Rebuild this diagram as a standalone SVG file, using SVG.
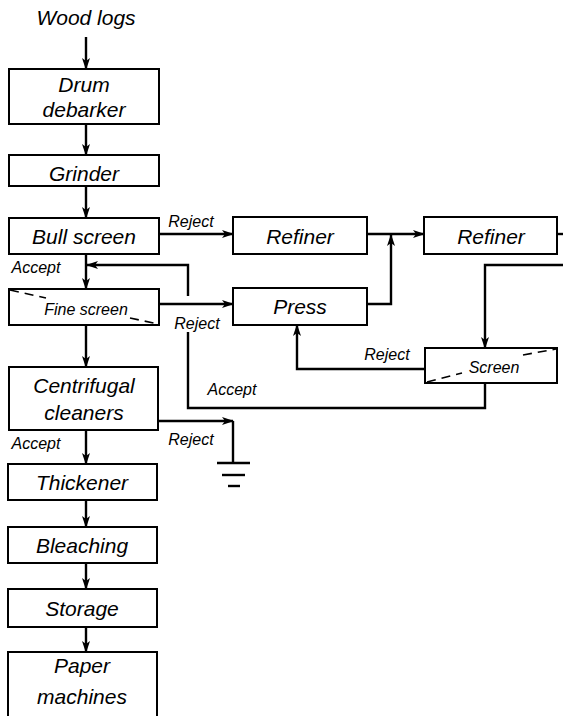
<svg xmlns="http://www.w3.org/2000/svg" width="563" height="716" viewBox="0 0 563 716">
  <defs>
    <marker id="arrow" viewBox="0 0 12 8" refX="11" refY="4" markerWidth="12" markerHeight="8" markerUnits="userSpaceOnUse" orient="auto">
      <path d="M0,0 L12,4 L0,8 L3,4 z" fill="#000"/>
    </marker>
    <style>
      .box { fill: #fff; stroke: #000; stroke-width: 2; }
      .flow { fill: none; stroke: #000; stroke-width: 2.4; }
      .dash { fill: none; stroke: #000; stroke-width: 1.6; stroke-dasharray: 9 6; }
      .lbl { font-family: "Liberation Sans", Arial, sans-serif; font-style: italic; fill: #000; text-anchor: middle; }
      .big { font-size: 21px; }
      .mid { font-size: 16px; }
      .small { font-size: 16px; }
    </style>
  </defs>
  <rect width="563" height="716" fill="#fff"/>

  <!-- connectors -->
  <g id="connectors">
    <path class="flow" d="M86,37 V69" marker-end="url(#arrow)"/>
    <path class="flow" d="M86,124 V155" marker-end="url(#arrow)"/>
    <path class="flow" d="M86,186 V218" marker-end="url(#arrow)"/>
    <path class="flow" d="M86,254 V289" marker-end="url(#arrow)"/>
    <path class="flow" d="M86,325 V367" marker-end="url(#arrow)"/>
    <path class="flow" d="M86,430 V464" marker-end="url(#arrow)"/>
    <path class="flow" d="M86,500 V527" marker-end="url(#arrow)"/>
    <path class="flow" d="M86,563 V589" marker-end="url(#arrow)"/>
    <path class="flow" d="M86,627 V652" marker-end="url(#arrow)"/>

    <!-- rejects to refining line -->
    <path class="flow" d="M159,234 H233" marker-end="url(#arrow)"/>
    <path class="flow" d="M159,304 H233" marker-end="url(#arrow)"/>
    <path class="flow" d="M367,234 H424" marker-end="url(#arrow)"/>
    <path class="flow" d="M367,304 H391 V235" marker-end="url(#arrow)"/>
    <path class="flow" d="M557,234 H563"/>
    <path class="flow" d="M563,265 H485 V348" marker-end="url(#arrow)"/>
    <path class="flow" d="M425,369 H297 V325" marker-end="url(#arrow)"/>

    <!-- screen accept returned ahead of fine screen -->
    <path class="flow" d="M485,383 V408 H188 V332"/>
    <path class="flow" d="M188,296 V265 H87" marker-end="url(#arrow)"/>

    <!-- cleaner reject to drain -->
    <path class="flow" d="M158,421 H233" marker-end="url(#arrow)"/>
    <path class="flow" d="M233,421 V463"/>
    <path class="flow" d="M217,463 H250"/>
    <path class="flow" d="M222,475 H245"/>
    <path class="flow" d="M228,486 H240"/>
  </g>

  <text class="lbl big" x="86" y="25">Wood logs</text>

  <g id="drum-debarker">
    <rect class="box" x="9" y="69" width="150" height="55"/>
    <text class="lbl big" x="84" y="92">Drum</text>
    <text class="lbl big" x="84" y="117">debarker</text>
  </g>

  <g id="grinder">
    <rect class="box" x="9" y="155" width="150" height="31"/>
    <text class="lbl big" x="84" y="181">Grinder</text>
  </g>

  <g id="bull-screen">
    <rect class="box" x="9" y="218" width="150" height="36"/>
    <text class="lbl big" x="84" y="244">Bull screen</text>
  </g>

  <g id="fine-screen">
    <rect class="box" x="9" y="289" width="150" height="36"/>
    <path class="dash" d="M10,290 L46,298 M130,318 L158,324"/>
    <text class="lbl mid" x="86" y="315">Fine screen</text>
  </g>

  <g id="refiner-1">
    <rect class="box" x="233" y="217" width="134" height="37"/>
    <text class="lbl big" x="300" y="244">Refiner</text>
  </g>

  <g id="refiner-2">
    <rect class="box" x="424" y="217" width="133" height="37"/>
    <text class="lbl big" x="491" y="244">Refiner</text>
  </g>

  <g id="press">
    <rect class="box" x="233" y="288" width="134" height="37"/>
    <text class="lbl big" x="300" y="314">Press</text>
  </g>

  <g id="screen">
    <rect class="box" x="425" y="348" width="132" height="35"/>
    <path class="dash" d="M427,382 L462,373 M523,355 L556,349"/>
    <text class="lbl mid" x="494" y="373">Screen</text>
  </g>

  <g id="centrifugal-cleaners">
    <rect class="box" x="9" y="367" width="149" height="63"/>
    <text class="lbl big" x="84" y="393">Centrifugal</text>
    <text class="lbl big" x="84" y="420">cleaners</text>
  </g>

  <g id="thickener">
    <rect class="box" x="8" y="464" width="149" height="36"/>
    <text class="lbl big" x="82" y="490">Thickener</text>
  </g>

  <g id="bleaching">
    <rect class="box" x="8" y="527" width="149" height="36"/>
    <text class="lbl big" x="82" y="553">Bleaching</text>
  </g>

  <g id="storage">
    <rect class="box" x="8" y="589" width="149" height="38"/>
    <text class="lbl big" x="82" y="616">Storage</text>
  </g>

  <g id="paper-machines">
    <rect class="box" x="8" y="652" width="149" height="70"/>
    <text class="lbl big" x="82" y="673">Paper</text>
    <text class="lbl big" x="82" y="704">machines</text>
  </g>

  <!-- flow labels -->
  <g id="labels">
    <text class="lbl small" x="191" y="227">Reject</text>
    <text class="lbl small" x="36" y="273">Accept</text>
    <text class="lbl small" x="197" y="329">Reject</text>
    <text class="lbl small" x="387" y="360">Reject</text>
    <text class="lbl small" x="232" y="395">Accept</text>
    <text class="lbl small" x="36" y="449">Accept</text>
    <text class="lbl small" x="191" y="445">Reject</text>
  </g>
</svg>
